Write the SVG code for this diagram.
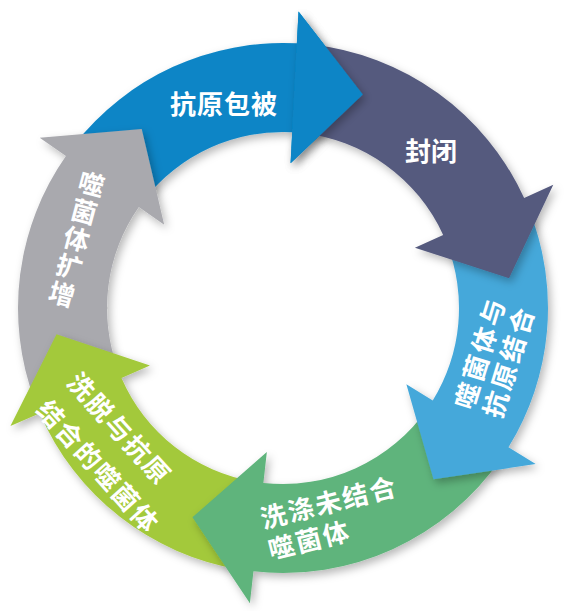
<svg xmlns="http://www.w3.org/2000/svg" xmlns:xlink="http://www.w3.org/1999/xlink" width="573" height="611" viewBox="0 0 573 611">
<defs>
<filter id="sh" x="-20%" y="-20%" width="140%" height="140%">
<feDropShadow dx="3" dy="4" stdDeviation="4" flood-color="#000" flood-opacity="0.28"/>
</filter>
<path id="blueHead" d="M 298.54 11.41 L 362.85 94.44 L 290.59 163.20 Z"/>
</defs>
<style>
.lbl{font-family:"Noto Sans CJK SC","Noto Sans",sans-serif;font-weight:700;font-size:26px;fill:#fff;dominant-baseline:central}
.arw{filter:url(#sh)}
</style>
<rect width="573" height="611" fill="#fff"/>
<g id="node-blue">
<path class="arw" fill="#0b85c6" d="M 74.18 144.85 A 265 265 0 0 1 296.87 43.36 L 298.54 11.41 L 362.85 94.44 L 290.59 163.20 L 292.21 132.24 A 176 176 0 0 0 144.31 199.64 Z"/>
<text class="lbl" text-anchor="middle" letter-spacing="1" x="224" y="102.5">抗原包被</text>
</g>
<g id="node-gray">
<path class="arw" fill="#a9a9ae" d="M 34.62 400.37 A 265 265 0 0 1 65.93 156.0 L 39.71 137.65 L 141.71 129.05 L 164.22 224.83 L 138.83 207.05 A 176 176 0 0 0 118.04 369.35 Z"/>
<text class="lbl" text-anchor="middle" transform="translate(92,182) rotate(15)"><tspan x="0" y="0">噬</tspan><tspan x="0" y="28.5">菌</tspan><tspan x="0" y="57">体</tspan><tspan x="0" y="85.5">扩</tspan><tspan x="0" y="114">增</tspan></text>
</g>
<g id="node-lightgreen">
<path class="arw" fill="#a3c93a" d="M 239.72 569.44 A 265 265 0 0 1 39.80 413.24 L 10.43 425.95 L 56.51 334.21 L 149.93 365.59 L 121.48 377.90 A 176 176 0 0 0 254.25 481.64 Z"/>
<text class="lbl" letter-spacing="2" transform="translate(83,385) rotate(48)"><tspan x="-13" y="0">洗脱与抗原</tspan><tspan x="-13" y="41">结合的噬菌体</tspan></text>
</g>
<g id="node-green">
<path class="arw" fill="#5eb47b" d="M 500.87 458.86 A 265 265 0 0 1 253.46 571.35 L 249.89 603.15 L 192.45 517.25 L 266.84 452.10 L 263.38 482.90 A 176 176 0 0 0 427.70 408.19 Z"/>
<text class="lbl" letter-spacing="2" transform="translate(273,514) rotate(-14)"><tspan x="-13" y="0">洗涤未结合</tspan><tspan x="-13" y="32">噬菌体</tspan></text>
</g>
<g id="node-lightblue">
<path class="arw" fill="#45a8da" d="M 529.56 210.88 A 265 265 0 0 1 508.46 447.25 L 535.69 464.06 L 433.48 479.29 L 406.37 384.19 L 432.74 400.48 A 176 176 0 0 0 446.75 243.50 Z"/>
<text class="lbl" letter-spacing="3" transform="translate(465,395) rotate(-73)"><tspan x="-13" y="0">噬菌体与</tspan><tspan x="-13" y="30">抗原结合</tspan></text>
</g>
<g id="node-navy">
<path class="arw" fill="#555a7e" d="M 310.70 44.45 A 265 265 0 0 1 524.14 198.11 L 553.26 184.84 L 509.05 278.24 L 414.94 247.87 L 443.15 235.01 A 176 176 0 0 0 301.40 132.96 Z"/>
<text class="lbl" text-anchor="middle" x="431" y="149">封闭</text>
</g>
<g id="connectors">
<use xlink:href="#blueHead" href="#blueHead" fill="#0b85c6" class="arw"/>
</g>
</svg>
